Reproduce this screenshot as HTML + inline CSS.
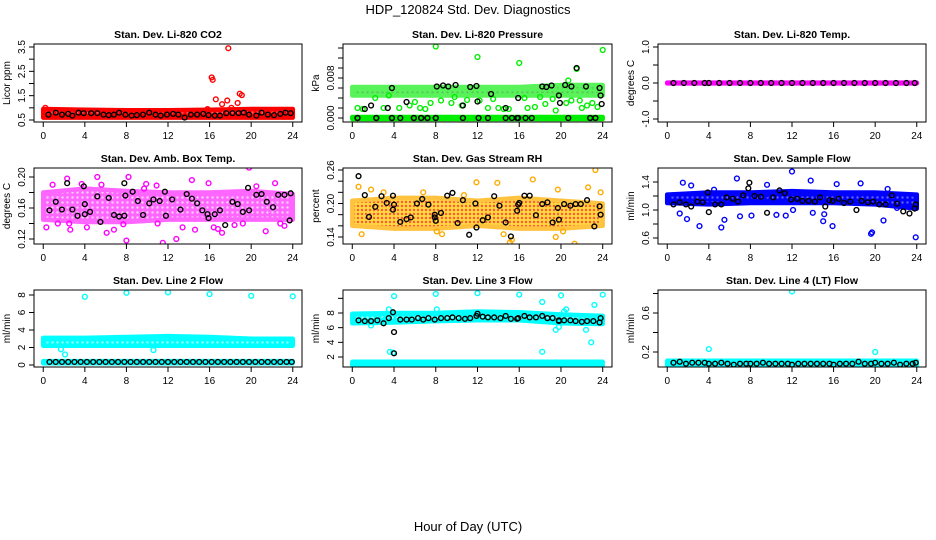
<!DOCTYPE html>
<html><head><meta charset="utf-8"><style>
html,body{margin:0;padding:0;background:#fff}
svg{display:block;font-family:"Liberation Sans",Arial,sans-serif}
</style></head><body>
<svg id="chart" width="936" height="540" viewBox="0 0 936 540">
<defs>
<pattern id="pat-red" width="5" height="5" patternUnits="userSpaceOnUse"><rect width="5" height="5" fill="#ff0000"/><circle cx="2.5" cy="2.5" r="1.2" fill="#ff6060"/></pattern>
<pattern id="pat-green" width="5" height="5" patternUnits="userSpaceOnUse"><rect width="5" height="5" fill="#00ee00"/><circle cx="2.5" cy="2.5" r="1.2" fill="#0a0"/></pattern>
<pattern id="pat-mag" width="5" height="5" patternUnits="userSpaceOnUse"><rect width="5" height="5" fill="#ff00ff"/><circle cx="2.5" cy="2.5" r="1.2" fill="#ffb0ff"/></pattern>
<pattern id="pat-orange" width="4" height="4" patternUnits="userSpaceOnUse"><rect width="4" height="4" fill="#ffcc00"/><circle cx="2" cy="2" r="1.2" fill="#ff2000"/></pattern>
<pattern id="pat-blue" width="5" height="5" patternUnits="userSpaceOnUse"><rect width="5" height="5" fill="#0000ff"/><circle cx="2.5" cy="2.5" r="1.2" fill="#6060ff"/></pattern>
<pattern id="pat-cyan" width="5" height="5" patternUnits="userSpaceOnUse"><rect width="5" height="5" fill="#00ffff"/><circle cx="2.5" cy="2.5" r="1.2" fill="#a0ffff"/></pattern>
</defs>
<text x="468" y="14" text-anchor="middle" font-size="13">HDP_120824  Std. Dev. Diagnostics</text>
<text x="468" y="531" text-anchor="middle" font-size="13">Hour of Day (UTC)</text>
</svg>
<script>
// ---- shared x data ----
const hourTicks = [0,4,8,12,16,20,24];
const bandHours = [0,4,8,12,16,20,24];

// ---- panel 1: CO2 ----
const p1Titles = "Stan. Dev. Li-820 CO2";
const p1Lo = [0.6,0.6,0.6,0.6,0.6,0.6,0.6];
const p1Hi = [0.95,0.92,0.9,0.9,0.92,0.95,0.95];
const p1OutX = [16.2,16.3,17.8,16.6,17.7,18.7,18.9,19.1,17.2,15.8,18.1,0.2];
const p1OutY = [2.25,2.15,3.45,1.35,1.3,1.2,1.58,1.52,1.15,0.95,1.0,1.0];
const p1BlkX = [0.5,1.2,1.8,2.4,2.8,3.4,3.9,4.6,5.2,5.8,6.3,6.8,7.3,7.9,8.5,9.0,9.6,10.2,10.8,11.3,11.9,12.5,13.0,13.6,14.2,14.8,15.4,15.9,16.5,17.0,17.6,18.2,18.8,19.3,19.8,20.5,21.0,21.6,22.2,22.8,23.3,23.8];
const p1BlkY = [0.72,0.8,0.72,0.75,0.68,0.8,0.78,0.78,0.78,0.72,0.7,0.72,0.8,0.72,0.68,0.7,0.72,0.8,0.72,0.68,0.72,0.75,0.72,0.6,0.72,0.72,0.75,0.7,0.68,0.68,0.78,0.78,0.78,0.8,0.72,0.68,0.8,0.72,0.7,0.75,0.8,0.78];

// ---- panel 2: Pressure ----
const p2BandLo = [0.0045,0.0045,0.0045,0.0045,0.0045,0.0045,0.0045];
const p2BandHi = [0.0062,0.0062,0.0062,0.0062,0.0062,0.0066,0.0066];
const p2OutX = [8,12,16,24,21.5,20.7,0.5,1.0,3.0,4.5,5.5,6.5,7.0,8.5,9.5,10.5,12.2,13.0,14.0,15.0,16.8,17.5,18.5,19.5,20.5,21.0,22.0,22.5,23.0,23.5,2.2,6.0,9.8,11.0,13.5,16.5,18.0,19.2,21.8,3.5,7.5,14.5];
const p2OutY = [0.0143,0.0122,0.011,0.0136,0.0098,0.0075,0.002,0.0018,0.002,0.002,0.0025,0.002,0.0018,0.0035,0.003,0.0025,0.0035,0.002,0.002,0.0018,0.002,0.0022,0.0028,0.0015,0.003,0.0035,0.002,0.0025,0.003,0.0022,0.004,0.0032,0.0042,0.0036,0.0038,0.004,0.0042,0.0038,0.0035,0.0045,0.003,0.0018];
const p2ZeroX = [0.5,2.3,3.8,4.6,5.9,6.6,7.2,8.0,10.6,12.1,13.0,14.7,15.3,15.9,16.6,17.2,20.7,22.8,23.3];
const p2BlkX = [0.5,1.2,1.8,2.3,3.4,3.8,3.8,5.2,5.9,6.6,7.2,8.0,8.1,8.7,9.2,9.9,10.6,11.3,11.9,12.0,13.3,14.7,15.9,15.8,18.2,18.6,19.1,19.8,19.9,20.4,21.0,21.5,22.4,22.8,23.3,23.7,23.9,23.8];
const p2BlkY = [0,0.0018,0.0025,0,0.002,0.006,0,0.0032,0,0,0,0,0.0063,0.0065,0.0063,0.0066,0.0025,0.0062,0.0064,0.0033,0.0048,0.002,0.004,0,0.0063,0.0062,0.0065,0.0045,0.003,0.0066,0.0063,0.01,0.0063,0,0,0.006,0.0028,0.0045];

// ---- panel 3: Li-820 Temp ----
const p3Lo = [-0.01,-0.01,-0.01,-0.01,-0.01,-0.01,-0.01];
const p3Hi = [0.01,0.01,0.01,0.01,0.01,0.01,0.01];
const p3BlkX = [0.6,1.6,2.6,3.6,4,5,6,7,8,9,10,11,12,13,14,15,16,17,18,19,20,21,22,23,23.8];
const p3BlkY = [0,0,0,0,0,0,0,0,0,0,0,0,0,0,0,0,0,0,0,0,0,0,0,0,0];

// ---- panel 4: Amb Box Temp ----
const p4Lo = [0.145,0.142,0.142,0.145,0.145,0.145,0.145];
const p4Hi = [0.18,0.185,0.182,0.18,0.18,0.182,0.178];
const p4OutX = [0.3,0.9,2.3,2.6,3.7,5.2,6.1,6.8,7.7,8.2,9.9,10.9,11.5,11.0,12.8,14.3,14.6,15.9,16.4,17.2,19.8,20.5,21.4,22.3,22.8,23.2,5.6,2.5,4.2,9.7,13.4,16.8,18.4,19.2,1.4,8.0];
const p4OutY = [0.135,0.19,0.198,0.132,0.191,0.2,0.128,0.132,0.139,0.2,0.191,0.189,0.115,0.14,0.12,0.196,0.132,0.192,0.135,0.128,0.212,0.188,0.13,0.192,0.14,0.137,0.19,0.14,0.135,0.185,0.135,0.133,0.138,0.14,0.14,0.118];
const p4BlkX = [0.6,1.2,1.8,2.3,2.8,3.3,3.9,4.0,4.0,4.5,5.2,5.5,6.3,6.8,7.3,7.8,7.8,7.9,8.6,9.1,9.6,10.2,10.6,11.2,11.7,11.8,12.4,13.2,13.8,14.3,14.8,15.3,15.8,15.9,16.5,17.0,17.5,18.2,18.7,19.2,19.7,19.8,20.5,21.0,21.5,22.1,22.6,23.2,23.7,23.8];
const p4BlkY = [0.157,0.168,0.158,0.192,0.158,0.15,0.188,0.165,0.152,0.155,0.175,0.142,0.173,0.151,0.149,0.15,0.192,0.176,0.181,0.169,0.151,0.166,0.171,0.169,0.181,0.15,0.171,0.158,0.178,0.172,0.166,0.157,0.152,0.147,0.152,0.157,0.138,0.168,0.165,0.155,0.186,0.157,0.177,0.178,0.168,0.161,0.177,0.177,0.144,0.179];

// ---- panel 5: Gas Stream RH ----
const p5Lo = [0.16,0.155,0.155,0.16,0.155,0.155,0.16];
const p5Hi = [0.205,0.21,0.21,0.205,0.21,0.205,0.2];
const p5OutX = [0.6,0.9,1.8,3.0,6.8,8.1,8.6,10.7,11.9,13.9,15.1,15.3,17.3,19.7,20.2,21.3,22.6,23.3,23.8,14.5,19.5];
const p5OutY = [0.23,0.145,0.225,0.22,0.22,0.15,0.145,0.215,0.238,0.237,0.13,0.135,0.243,0.225,0.15,0.128,0.229,0.26,0.22,0.145,0.14];
const p5BlkX = [0.6,1.2,1.6,2.2,2.8,3.3,3.9,3.9,4.0,4.6,5.2,5.6,6.2,6.7,7.3,7.9,7.9,8.0,8.5,9.1,9.6,10.1,10.6,11.2,11.8,11.9,12.5,13.0,13.6,14.1,14.7,15.2,15.8,15.9,16.0,16.5,17.0,17.6,18.2,18.7,19.2,19.7,19.8,20.3,20.9,21.4,21.9,22.5,23.2,23.7,23.8];
const p5BlkY = [0.249,0.215,0.176,0.194,0.213,0.201,0.214,0.189,0.198,0.167,0.172,0.175,0.2,0.208,0.198,0.18,0.175,0.169,0.183,0.214,0.219,0.165,0.206,0.144,0.2,0.157,0.17,0.175,0.213,0.196,0.166,0.141,0.187,0.198,0.201,0.214,0.214,0.179,0.199,0.202,0.166,0.192,0.171,0.199,0.196,0.199,0.199,0.206,0.159,0.195,0.18];

// ---- panel 6: Sample Flow ----
const p6Lo = [1.1,1.08,1.1,1.1,1.1,1.08,1.02];
const p6Hi = [1.22,1.25,1.25,1.27,1.25,1.25,1.22];
const p6OutX = [1.5,1.2,1.9,3.1,5.2,5.5,6.7,7.0,8.1,9.6,10.5,11.4,12.0,12.1,13.8,14.0,15.0,15.1,15.9,16.3,18.6,19.6,19.7,20.8,23.9,2.3,4.5,9.5,17.0,21.2,22.1];
const p6OutY = [1.39,0.95,0.87,0.77,0.75,0.86,1.45,0.91,0.92,1.36,0.93,0.92,1.55,1.0,1.42,0.96,0.84,0.94,0.77,1.37,1.38,0.66,0.68,0.85,0.61,1.35,1.29,1.22,1.1,1.3,1.03];
const p6BlkX = [0.6,1.2,1.8,2.3,2.9,3.4,3.9,4.0,4.6,5.2,5.7,6.3,6.8,7.3,7.8,7.9,8.4,9.0,9.6,10.2,10.8,11.3,11.9,12.5,13.0,13.6,14.2,14.7,15.2,15.6,15.9,16.5,17.0,17.6,18.2,18.7,19.3,19.8,20.4,21.0,21.6,22.1,22.7,23.3,23.8,23.9];
const p6BlkY = [1.08,1.11,1.08,1.05,1.12,1.11,1.25,0.97,1.08,1.08,1.18,1.16,1.12,1.21,1.31,1.39,1.2,1.19,0.96,1.18,1.28,1.24,1.15,1.16,1.13,1.13,1.12,1.18,1.05,1.14,1.13,1.16,1.1,1.12,1.0,1.13,1.11,1.12,1.08,1.08,1.21,1.09,0.98,0.95,1.02,1.08];

// ---- panel 7: Line 2 Flow ----
const p7Lo = [2.2,2.2,2.2,2.2,2.2,2.2,2.2];
const p7Hi = [3.1,3.1,3.2,3.3,3.2,3.0,3.0];
const p7LowLo = [0.2,0.2,0.2,0.2,0.2,0.2,0.2];
const p7LowHi = [0.45,0.45,0.45,0.45,0.45,0.45,0.45];
const p7OutX = [4,8,12,16,20,24,2.1,10.6,1.7];
const p7OutY = [7.8,8.25,8.3,8.1,7.9,7.85,1.2,1.7,1.8];
const p7BlkX = [0.6,1.2,1.8,2.4,3,3.6,4.2,4.8,5.4,6,6.6,7.2,7.8,8.4,9,9.6,10.2,10.8,11.4,12,12.6,13.2,13.8,14.4,15,15.6,16.2,16.8,17.4,18,18.6,19.2,19.8,20.4,21,21.6,22.2,22.8,23.4,23.9];
const p7BlkY = [0.35,0.35,0.35,0.35,0.35,0.35,0.35,0.35,0.35,0.35,0.35,0.35,0.35,0.35,0.35,0.35,0.35,0.35,0.35,0.35,0.35,0.35,0.35,0.35,0.35,0.35,0.35,0.35,0.35,0.35,0.35,0.35,0.35,0.35,0.35,0.35,0.35,0.35,0.35,0.35];

// ---- panel 8: Line 3 Flow ----
const p8Lo = [6.6,6.7,6.9,7.0,7.0,6.6,6.5];
const p8Hi = [7.9,8.0,8.0,8.2,8.1,7.8,7.6];
const p8LowLo = [0.85,0.85,0.85,0.85,0.85,0.85,0.85];
const p8LowHi = [1.35,1.35,1.35,1.35,1.35,1.35,1.35];
const p8OutX = [4,8,12,16,20,24,3.6,3.9,18.2,18.2,19.5,19.8,22.4,22.9,23.2,3.5,2.8,20.3,20.5,1.8,8.1];
const p8OutY = [10.3,10.6,10.7,10.5,10.4,10.5,2.7,2.6,2.7,9.5,5.7,6.1,5.7,4.0,9.1,8.5,7.5,8.2,8.5,6.3,8.5];
const p8BlkX = [0.6,1.2,1.8,2.4,3.0,3.5,3.9,4.0,4.0,4.6,5.2,5.7,6.3,6.8,7.3,7.9,8.5,9.1,9.6,10.2,10.8,11.3,11.9,12.0,12.5,13.0,13.6,14.2,14.7,15.2,15.8,15.9,16.5,17.0,17.6,18.2,18.7,19.2,19.8,19.8,20.3,20.9,21.4,22.0,22.5,23.1,23.7,23.8];
const p8BlkY = [7.0,6.9,6.9,7.0,6.6,7.3,8.1,5.4,2.5,7.1,7.1,7.1,7.3,7.1,7.3,7.1,7.3,7.3,7.4,7.3,7.2,7.3,7.6,7.9,7.5,7.4,7.4,7.3,7.6,7.2,7.2,7.3,7.6,7.4,7.4,7.6,7.3,7.3,6.9,7.0,7.0,7.0,6.9,6.8,6.9,6.9,6.7,7.3];

// ---- panel 9: Line 4 (LT) Flow ----
const p9Lo = [0.05,0.05,0.05,0.05,0.05,0.05,0.05];
const p9Hi = [0.11,0.11,0.11,0.11,0.11,0.11,0.11];
const p9OutX = [4,12,20];
const p9OutY = [0.23,0.82,0.2];
const p9BlkX = [0.6,1.2,1.8,2.4,3,3.6,4,4.6,5.2,5.8,6.4,7,7.6,8,8.6,9.2,9.8,10.4,11,11.6,12,12.6,13.2,13.8,14.4,15,15.6,16,16.6,17.2,17.8,18.4,19,19.6,20,20.6,21.2,21.8,22.4,23,23.6,23.9];
const p9BlkY = [0.09,0.1,0.08,0.09,0.09,0.09,0.08,0.08,0.09,0.08,0.07,0.08,0.08,0.08,0.08,0.09,0.08,0.08,0.08,0.08,0.07,0.08,0.08,0.08,0.08,0.08,0.08,0.07,0.08,0.08,0.08,0.1,0.08,0.08,0.09,0.08,0.08,0.09,0.07,0.08,0.08,0.09];

// ---- layout ----
const NS = "http://www.w3.org/2000/svg";
const svg = document.getElementById('chart');
const colL = [34,343,658], colR = [302,612,926];
const rowT = [44,168,290], rowB = [122,244,367];

function mk(tag, attrs, parent){
  const e = document.createElementNS(NS, tag);
  for (const k in attrs) e.setAttribute(k, attrs[k]);
  (parent||svg).appendChild(e);
  return e;
}

function panel(cfg){
  const L = colL[cfg.c], R = colR[cfg.c], T = rowT[cfg.r], B = rowB[cfg.r];
  const w = R - L;
  const x0 = L + w*0.0345, x1 = R - w*0.0345;
  const xs = h => x0 + (h/24)*(x1-x0);
  const ys = v => cfg.y1 + (v - cfg.v1)*(cfg.y2 - cfg.y1)/(cfg.v2 - cfg.v1);
  const g = mk('g', {});
  
  
  const clip = mk('clipPath', {id:'clip-'+cfg.name}, g);
  mk('rect', {x:L, y:T, width:w, height:B-T}, clip);
  const plot = mk('g', {'clip-path':'url(#clip-'+cfg.name+')'}, g);
  (cfg.bands||[]).forEach((b, bi) => {
    let d = '';
    bandHours.forEach((h,i)=>{ d += (i?'L':'M') + xs(h).toFixed(1) + ',' + (ys(b.hi[i])).toFixed(1); });
    for (let i = bandHours.length-1; i >= 0; i--) d += 'L' + xs(bandHours[i]).toFixed(1) + ',' + (ys(b.lo[i])).toFixed(1);
    d += 'Z';
    const p = mk('path', {d:d, fill:b.fill, stroke:b.stroke, 'stroke-width':4.5, 'stroke-linejoin':'round', opacity:b.op||1}, plot);
    
    
  });
  const ox = cfg.outX||[], oy = cfg.outY||[];
  ox.forEach((h,i)=>{
    const c = mk('circle', {cx:xs(h), cy:ys(oy[i]), r:2.4, fill:'none', stroke:cfg.color, 'stroke-width':1.4}, plot);
    
    
  });
  const bx = cfg.blkX||[], by = cfg.blkY||[];
  bx.forEach((h,i)=>{
    const c = mk('circle', {cx:xs(h), cy:ys(by[i]), r:2.4, fill:'none', stroke:'#000', 'stroke-width':1.4}, plot);
    
    
  });
  const box = mk('rect', {x:L, y:T, width:w, height:B-T, fill:'none', stroke:'#000', 'stroke-width':1}, g);
  
  
  const t = mk('text', {x:(L+R)/2, y:T-6, 'text-anchor':'middle', 'font-size':10.5, 'font-weight':'bold'}, g);
  t.textContent = cfg.title;
  
  
  mk('line', {x1:xs(0), x2:xs(24), y1:B, y2:B, stroke:'#000'}, g);
  hourTicks.forEach(h=>{
    mk('line', {x1:xs(h), x2:xs(h), y1:B, y2:B+5, stroke:'#000'}, g);
    const tl = mk('text', {x:xs(h), y:B+17, 'text-anchor':'middle', 'font-size':10}, g);
    tl.textContent = h;
    
    
  });
  mk('line', {x1:L, x2:L, y1:ys(cfg.ticks[0]), y2:ys(cfg.ticks[cfg.ticks.length-1]), stroke:'#000'}, g);
  cfg.ticks.forEach((v,i)=>{
    mk('line', {x1:L-5, x2:L, y1:ys(v), y2:ys(v), stroke:'#000'}, g);
    if (cfg.labels[i]) {
      const ty = ys(v);
      const tl = mk('text', {x:L-9, y:ty, 'text-anchor':'middle', 'font-size':10, transform:'rotate(-90 '+(L-9)+' '+ty+')'}, g);
      tl.textContent = cfg.labels[i];
      
      
    }
  });
  const yl = mk('text', {x:L-24, y:(T+B)/2, 'text-anchor':'middle', 'font-size':10, transform:'rotate(-90 '+(L-24)+' '+((T+B)/2)+')'}, g);
  yl.textContent = cfg.ylab;
  
  
}

panel({name:'panel-co2', r:0, c:0, title:p1Titles, ylab:'Licor ppm', color:'#ff0000',
  v1:0.5, y1:120, v2:3.5, y2:47,
  ticks:[0.5,1,1.5,2,2.5,3,3.5], labels:['0.5','','1.5','','2.5','','3.5'],
  bands:[{lo:p1Lo, hi:p1Hi, fill:'url(#pat-red)', stroke:'#ff0000'}],
  outX:p1OutX, outY:p1OutY, blkX:p1BlkX, blkY:p1BlkY});

panel({name:'panel-pressure', r:0, c:1, title:'Stan. Dev. Li-820 Pressure', ylab:'kPa', color:'#00ee00',
  v1:0, y1:118, v2:0.008, y2:78,
  ticks:[0,0.002,0.004,0.006,0.008,0.01,0.012,0.014], labels:['0.000','','','','0.008','','',''],
  bands:[{lo:[-0.0002,-0.0002,-0.0002,-0.0002,-0.0002,-0.0002,-0.0002], hi:[0.0002,0.0002,0.0002,0.0002,0.0002,0.0002,0.0002], fill:'url(#pat-green)', stroke:'#00ee00'},
         {lo:p2BandLo, hi:p2BandHi, fill:'url(#pat-green)', stroke:'#00ee00', op:0.65}],
  outX:p2OutX, outY:p2OutY, blkX:p2BlkX.concat(p2ZeroX), blkY:p2BlkY.concat(p2ZeroX.map(()=>0))});

panel({name:'panel-li-temp', r:0, c:2, title:'Stan. Dev. Li-820 Temp.', ylab:'degrees C', color:'#ff00ff',
  v1:-1, y1:119, v2:1, y2:47,
  ticks:[-1,-0.5,0,0.5,1], labels:['-1.0','','0.0','','1.0'],
  bands:[{lo:p3Lo, hi:p3Hi, fill:'url(#pat-mag)', stroke:'#ff00ff'}],
  blkX:p3BlkX, blkY:p3BlkY});

panel({name:'panel-box-temp', r:1, c:0, title:'Stan. Dev. Amb. Box Temp.', ylab:'degrees C', color:'#ff00ff',
  v1:0.16, y1:208, v2:0.20, y2:177,
  ticks:[0.12,0.14,0.16,0.18,0.20], labels:['0.12','','0.16','','0.20'],
  bands:[{lo:p4Lo, hi:p4Hi, fill:'url(#pat-mag)', stroke:'#ff00ff', op:0.6}],
  outX:p4OutX, outY:p4OutY, blkX:p4BlkX, blkY:p4BlkY});

panel({name:'panel-rh', r:1, c:1, title:'Stan. Dev. Gas Stream RH', ylab:'percent', color:'#ffaa00',
  v1:0.14, y1:237, v2:0.26, y2:170,
  ticks:[0.14,0.16,0.18,0.2,0.22,0.24,0.26], labels:['0.14','','','0.20','','','0.26'],
  bands:[{lo:p5Lo, hi:p5Hi, fill:'url(#pat-orange)', stroke:'#ffb000', op:0.75}],
  outX:p5OutX, outY:p5OutY, blkX:p5BlkX, blkY:p5BlkY});

panel({name:'panel-sample-flow', r:1, c:2, title:'Stan. Dev. Sample Flow', ylab:'ml/min', color:'#0000ff',
  v1:1.0, y1:210, v2:1.4, y2:182,
  ticks:[0.6,0.8,1.0,1.2,1.4], labels:['0.6','','1.0','','1.4'],
  bands:[{lo:p6Lo, hi:p6Hi, fill:'url(#pat-blue)', stroke:'#0000ff'}],
  outX:p6OutX, outY:p6OutY, blkX:p6BlkX, blkY:p6BlkY});

panel({name:'panel-line2-flow', r:2, c:0, title:'Stan. Dev. Line 2 Flow', ylab:'ml/min', color:'#00ffff',
  v1:0, y1:365, v2:8, y2:295,
  ticks:[0,2,4,6,8], labels:['0','2','4','6','8'],
  bands:[{lo:p7Lo, hi:p7Hi, fill:'url(#pat-cyan)', stroke:'#00ffff'},{lo:p7LowLo, hi:p7LowHi, fill:'#00ffff', stroke:'#00ffff'}],
  outX:p7OutX, outY:p7OutY, blkX:p7BlkX, blkY:p7BlkY});

panel({name:'panel-line3-flow', r:2, c:1, title:'Stan. Dev. Line 3 Flow', ylab:'ml/min', color:'#00ffff',
  v1:2, y1:357, v2:8, y2:313,
  ticks:[2,4,6,8,10], labels:['2','4','6','8',''],
  bands:[{lo:p8Lo, hi:p8Hi, fill:'url(#pat-cyan)', stroke:'#00ffff'},{lo:p8LowLo, hi:p8LowHi, fill:'#00ffff', stroke:'#00ffff'}],
  outX:p8OutX, outY:p8OutY, blkX:p8BlkX, blkY:p8BlkY});

panel({name:'panel-line4-flow', r:2, c:2, title:'Stan. Dev. Line 4 (LT) Flow', ylab:'ml/min', color:'#00ffff',
  v1:0.2, y1:352, v2:0.6, y2:313,
  ticks:[0.2,0.4,0.6,0.8], labels:['0.2','','0.6',''],
  bands:[{lo:p9Lo, hi:p9Hi, fill:'#00ffff', stroke:'#00ffff'}],
  outX:p9OutX, outY:p9OutY, blkX:p9BlkX, blkY:p9BlkY});
</script>
</body></html>
